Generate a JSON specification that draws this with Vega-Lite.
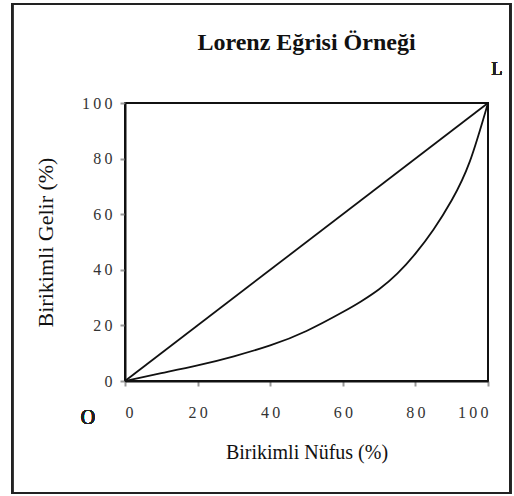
{
  "$schema": "https://vega.github.io/schema/vega-lite/v6.json",
  "width": 363,
  "height": 278,
  "autosize": {"type": "none"},
  "padding": {"left": 125, "top": 103, "right": 26, "bottom": 115},
  "background": "white",
  "title": {
    "text": "Lorenz Eğrisi Örneği",
    "font": "Liberation Serif",
    "fontSize": 24,
    "fontWeight": "bold",
    "color": "#111",
    "anchor": "middle",
    "offset": -52
  },
  "config": {
    "view": {"stroke": "#111", "strokeWidth": 2},
    "axis": {
      "domainColor": "#111",
      "domainWidth": 2,
      "tickColor": "#999",
      "tickWidth": 2,
      "tickSize": 5,
      "grid": false,
      "labelFont": "Liberation Serif",
      "labelFontSize": 16,
      "labelColor": "#333",
      "titleFont": "Liberation Serif",
      "titleFontWeight": "normal",
      "titleColor": "#111"
    }
  },
  "data": {
    "values": [
      {"series": "Eşitlik", "x": 0, "y": 0},
      {"series": "Eşitlik", "x": 100, "y": 100},
      {"series": "Lorenz", "x": 0, "y": 0},
      {"series": "Lorenz", "x": 10, "y": 2.8},
      {"series": "Lorenz", "x": 20, "y": 5.6},
      {"series": "Lorenz", "x": 30, "y": 8.9},
      {"series": "Lorenz", "x": 40, "y": 12.8},
      {"series": "Lorenz", "x": 50, "y": 18},
      {"series": "Lorenz", "x": 60, "y": 24.8},
      {"series": "Lorenz", "x": 65, "y": 28.6},
      {"series": "Lorenz", "x": 70, "y": 33},
      {"series": "Lorenz", "x": 75, "y": 38.6},
      {"series": "Lorenz", "x": 80, "y": 45.8},
      {"series": "Lorenz", "x": 85, "y": 54.5},
      {"series": "Lorenz", "x": 90, "y": 65},
      {"series": "Lorenz", "x": 95, "y": 79},
      {"series": "Lorenz", "x": 100, "y": 100}
    ]
  },
  "layer": [
    {
      "mark": {"type": "line", "color": "#111", "strokeWidth": 1.8, "interpolate": "natural"},
      "encoding": {
        "x": {
          "field": "x", "type": "quantitative",
          "scale": {"domain": [0, 100], "nice": false},
          "axis": {
            "values": [0, 20, 40, 60, 80, 100],
            "title": "Birikimli Nüfus (%)",
            "titleFontSize": 20,
            "labelPadding": 18,
            "titlePadding": 22,
            "labelExpr": "join(split(datum.label, ''), '\u2009')"
          }
        },
        "y": {
          "field": "y", "type": "quantitative",
          "scale": {"domain": [0, 100], "nice": false},
          "axis": {
            "values": [0, 20, 40, 60, 80, 100],
            "title": "Birikimli Gelir (%)",
            "titleFontSize": 22,
            "labelPadding": 8,
            "titlePadding": 24,
            "labelExpr": "join(split(datum.label, ''), '\u2009')"
          }
        },
        "detail": {"field": "series"}
      }
    },
    {
      "mark": {"type": "rect", "fill": null, "stroke": "#222", "strokeWidth": 2, "clip": false},
      "encoding": {
        "x": {"datum": -31.1, "type": "quantitative"},
        "x2": {"datum": 106.1},
        "y": {"datum": 135.6, "type": "quantitative"},
        "y2": {"datum": -40.3}
      }
    },
    {
      "mark": {"type": "text", "text": "L", "font": "Liberation Serif", "fontSize": 18, "fontWeight": "normal", "color": "#222", "dx": 9, "dy": -33, "align": "center", "baseline": "middle"},
      "encoding": {
        "x": {"datum": 100, "type": "quantitative"},
        "y": {"datum": 100, "type": "quantitative"}
      }
    },
    {
      "mark": {"type": "text", "text": "O", "font": "Liberation Serif", "fontSize": 20, "fontWeight": "normal", "color": "#222", "dx": -37, "dy": 37, "align": "center", "baseline": "middle"},
      "encoding": {
        "x": {"datum": 0, "type": "quantitative"},
        "y": {"datum": 0, "type": "quantitative"}
      }
    }
  ]
}
